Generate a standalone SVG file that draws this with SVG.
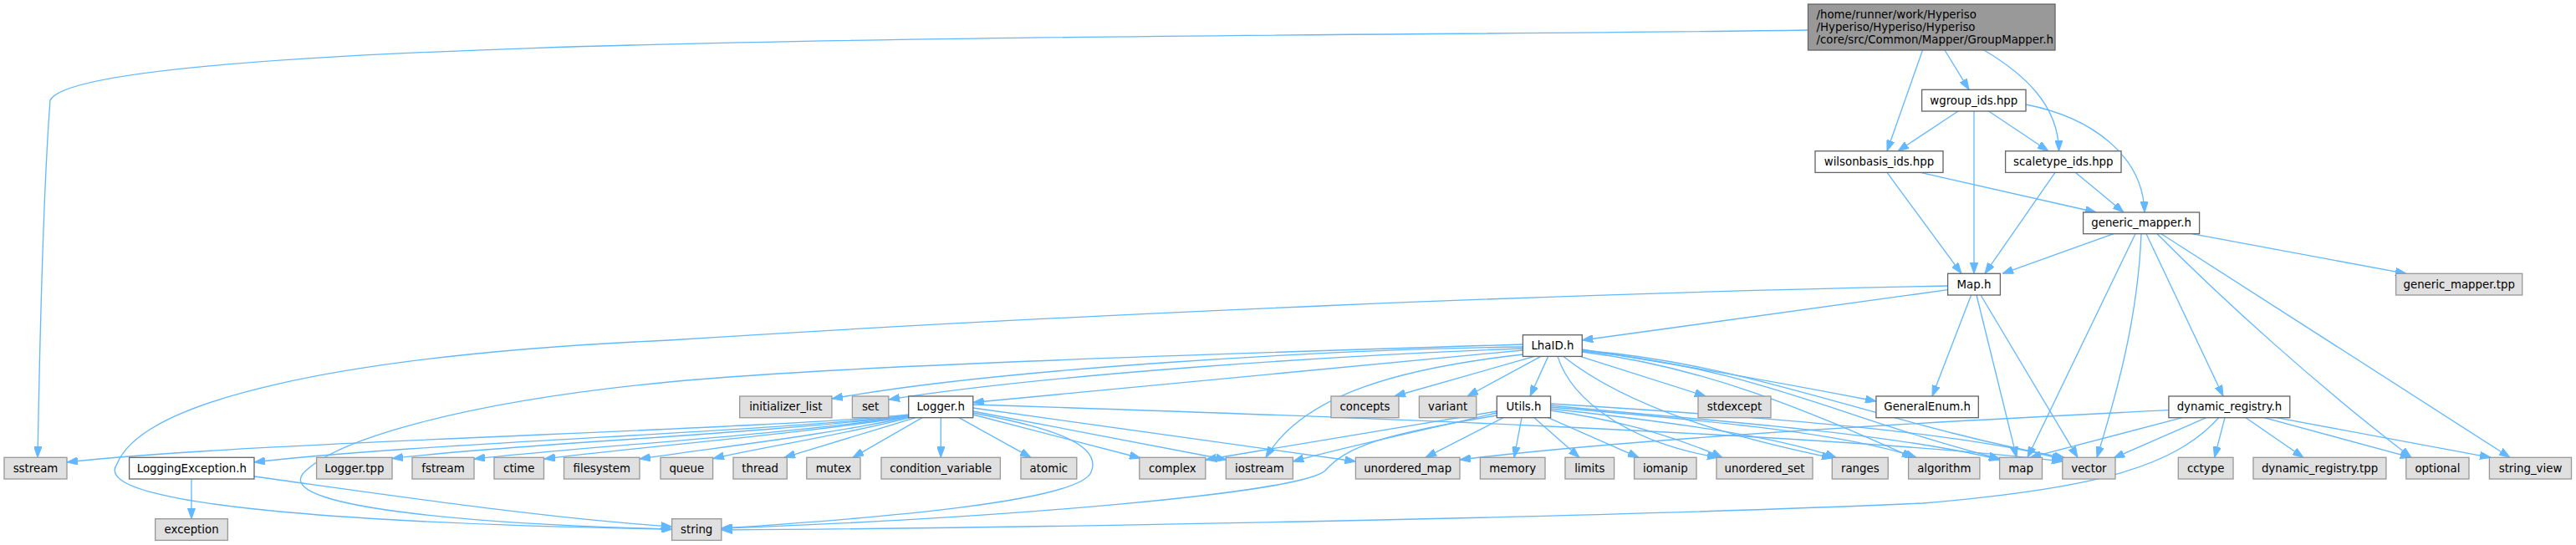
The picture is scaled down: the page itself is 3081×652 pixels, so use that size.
<svg xmlns="http://www.w3.org/2000/svg" width="3081" height="652" viewBox="0 0 3081 652">
<defs>
<style>
.n rect{fill:#ffffff;stroke:#666666;stroke-width:1.33}
.e rect{fill:#e0e0e0;stroke:#999999;stroke-width:1.33}
.r rect{fill:#999999;stroke:#666666;stroke-width:1.33}
text{font-family:"DejaVu Sans","Liberation Sans",sans-serif;font-size:13.33px;fill:#000000;text-anchor:middle}
#edges path{fill:none;stroke:#63b8ff;stroke-width:1.33;marker-end:url(#arr)}
</style>
<marker id="arr" viewBox="0 0 13 9.4" markerWidth="13" markerHeight="9.4" refX="13" refY="4.7" orient="auto" markerUnits="userSpaceOnUse">
<path d="M0,0 L13,4.7 L0,9.4 z" fill="#63b8ff" stroke="#63b8ff" stroke-width="1"/>
</marker>
</defs>
<rect width="3081" height="652" fill="#ffffff"/>
<g id="edges">
<path d="M2162.5,36 C1500,46 100,38 60,120 C50,250 47,450 45,547.3"/>
<path d="M2299.5,60 L2257,180.7"/>
<path d="M2326,60 L2355,107.3"/>
<path d="M2373,60 C2420,88 2462,125 2462.5,180.7"/>
<path d="M2342,133 L2270,180.7"/>
<path d="M2361,133 L2361,327.3"/>
<path d="M2378.5,133 L2450,180.7"/>
<path d="M2423,125 C2500,140 2563,185 2565,254"/>
<path d="M2257,206.4 L2346,327.3"/>
<path d="M2297,206.4 L2507,254"/>
<path d="M2458,206.4 L2374,327.3"/>
<path d="M2482.5,206.4 L2540,254"/>
<path d="M2528,279.7 L2395,327.3"/>
<path d="M2621.5,279.7 L2878,327.3"/>
<path d="M2567,279.7 L2659,474"/>
<path d="M2554,279.7 L2425,547.3"/>
<path d="M2561,279.7 C2557,380 2532,470 2508,547.3"/>
<path d="M2580,279.7 C2660,360 2770,460 2884,547.3"/>
<path d="M2585,279.7 L3002,547.3"/>
<path d="M2329.6,346.7 L1892.3,407"/>
<path d="M2357.6,353 L2311,474"/>
<path d="M2364,353 L2412,547.3"/>
<path d="M2369,353 L2485,547.3"/>
<path d="M2329.6,342 C1900,350 1300,375 800,407 C400,425 170,480 140,555 C100,610 500,628 803.6,633"/>
<path d="M1821.4,415 C1600,418 1200,440 995,477"/>
<path d="M1821.4,417 C1600,425 1250,448 1063,478"/>
<path d="M1821.4,419 L1163.8,481.5"/>
<path d="M1821.4,412 C1400,425 1000,438 800,457 C560,480 400,525 362,567 C330,610 600,628 803.6,633"/>
<path d="M1821.4,424 C1680,440 1560,470 1514,547.3"/>
<path d="M1835,426.4 L1668,474"/>
<path d="M1843,426.4 L1755,474"/>
<path d="M1851.7,426.4 L1830,474"/>
<path d="M1890,426.4 L2040,474"/>
<path d="M1892.3,418 C2000,435 2150,462 2243.9,480"/>
<path d="M1863,426.4 C1880,480 1950,530 2055,547.3"/>
<path d="M1870,426.4 C1950,490 2080,525 2192,548"/>
<path d="M1892.3,421 C2050,440 2180,500 2288,547.3"/>
<path d="M1892.3,420 C2100,440 2200,500 2392,549"/>
<path d="M1892.3,419 C2100,436 2240,505 2470,548"/>
<path d="M1798,499.7 L1705,547.3"/>
<path d="M1820,499.7 L1811,547.3"/>
<path d="M1835,499.7 L1889,547.3"/>
<path d="M1851.7,499.7 L1960,547.3"/>
<path d="M1854.6,491 C1950,505 2010,525 2060,547.3"/>
<path d="M1854.6,489 C1980,503 2120,520 2196,547.3"/>
<path d="M1854.6,487 C2000,500 2200,515 2292,547.3"/>
<path d="M1854.6,485 C2000,500 2250,515 2392,550"/>
<path d="M1854.6,483 C2050,495 2350,515 2467,550"/>
<path d="M1790.3,492 L1442,550"/>
<path d="M1790.3,494 C1700,515 1600,537 1546.4,552"/>
<path d="M1790.3,497 C1650,520 1610,535 1585,563 C1555,590 1200,620 862.8,632"/>
<path d="M1086.7,496 C900,515 300,528 80,553"/>
<path d="M1086.7,497 C900,518 500,530 304,553"/>
<path d="M1086.7,497.5 C900,520 600,532 469,548.5"/>
<path d="M1086.7,498 C920,522 690,535 567,549"/>
<path d="M1086.7,498.5 C950,520 760,535 651,549"/>
<path d="M1086.7,499 C990,520 860,535 765,549"/>
<path d="M1088,499.7 C1010,520 910,535 853,548.5"/>
<path d="M1095,499.7 L938,547.3"/>
<path d="M1103,499.7 L1020,547.3"/>
<path d="M1125.3,499.7 L1125.3,547.3"/>
<path d="M1147,499.7 L1233,547.3"/>
<path d="M1163.8,496 L1364,548"/>
<path d="M1163.8,492 L1467,550"/>
<path d="M1163.8,488 L1621.4,552"/>
<path d="M1163.8,484 C1600,498 2200,520 2466.8,552"/>
<path d="M1163.8,494 C1250,510 1320,530 1305,565 C1290,600 1050,620 862.8,632"/>
<path d="M229,573 L229,620.7"/>
<path d="M304,570 C450,590 650,620 803.6,630"/>
<path d="M2593.9,490.7 C2300,505 1950,525 1746,550"/>
<path d="M2610,499.7 L2428,547.3"/>
<path d="M2638.7,499.7 L2528,548"/>
<path d="M2653.6,499.7 C2600,560 2500,585 2300,602 C1900,620 1200,632 862.8,634"/>
<path d="M2661,499.7 L2648.6,547.3"/>
<path d="M2686,499.7 L2755,547.3"/>
<path d="M2708,499.7 L2884,547.3"/>
<path d="M2723,499.7 L2979,547.3"/>
</g>
<g id="root" class="r"><rect x="2162.5" y="5" width="295.5" height="55"/><text x="2172.5" y="22" style="text-anchor:start">/home/runner/work/Hyperiso</text><text x="2172.5" y="37" style="text-anchor:start">/Hyperiso/Hyperiso/Hyperiso</text><text x="2172.5" y="52" style="text-anchor:start">/core/src/Common/Mapper/GroupMapper.h</text></g>
<g id="wgroup" class="n"><rect x="2298.6" y="107.3" width="124.4" height="25.7"/><text x="2360.8" y="124.7">wgroup_ids.hpp</text></g>
<g id="wilson" class="n"><rect x="2171" y="180.7" width="153" height="25.7"/><text x="2247.5" y="198">wilsonbasis_ids.hpp</text></g>
<g id="scaletype" class="n"><rect x="2398.6" y="180.7" width="138.4" height="25.7"/><text x="2467.8" y="198">scaletype_ids.hpp</text></g>
<g id="gm_h" class="n"><rect x="2491.6" y="254" width="139" height="25.7"/><text x="2561.1" y="271.4">generic_mapper.h</text></g>
<g id="map_h" class="n"><rect x="2329.6" y="327.3" width="62.8" height="25.7"/><text x="2361" y="344.7">Map.h</text></g>
<g id="gm_tpp" class="e"><rect x="2865.6" y="327.3" width="151.1" height="25.7"/><text x="2941.2" y="344.7">generic_mapper.tpp</text></g>
<g id="lhaid" class="n"><rect x="1821.4" y="400.7" width="70.9" height="25.7"/><text x="1856.9" y="418">LhaID.h</text></g>
<g id="init_list" class="e"><rect x="884.7" y="474" width="110.2" height="25.7"/><text x="939.8" y="491.4">initializer_list</text></g>
<g id="set" class="e"><rect x="1019.4" y="474" width="43.4" height="25.7"/><text x="1041.1" y="491.4">set</text></g>
<g id="logger" class="n"><rect x="1086.7" y="474" width="77.1" height="25.7"/><text x="1125.3" y="491.4">Logger.h</text></g>
<g id="concepts" class="e"><rect x="1592" y="474" width="81" height="25.7"/><text x="1632.5" y="491.4">concepts</text></g>
<g id="variant" class="e"><rect x="1697.4" y="474" width="68.4" height="25.7"/><text x="1731.6" y="491.4">variant</text></g>
<g id="utils" class="n"><rect x="1790.3" y="474" width="64.3" height="25.7"/><text x="1822.5" y="491.4">Utils.h</text></g>
<g id="stdexcept" class="e"><rect x="2031" y="474" width="87" height="25.7"/><text x="2074.5" y="491.4">stdexcept</text></g>
<g id="genenum" class="n"><rect x="2243.9" y="474" width="122.4" height="25.7"/><text x="2305.1" y="491.4">GeneralEnum.h</text></g>
<g id="dynreg_h" class="n"><rect x="2593.9" y="474" width="144.9" height="25.7"/><text x="2666.4" y="491.4">dynamic_registry.h</text></g>
<g id="sstream" class="e"><rect x="5" y="547.3" width="75" height="25.7"/><text x="42.5" y="564.7">sstream</text></g>
<g id="logexc" class="n"><rect x="154.6" y="547.3" width="149.4" height="25.7"/><text x="229.3" y="564.7">LoggingException.h</text></g>
<g id="logger_tpp" class="e"><rect x="378.6" y="547.3" width="90.4" height="25.7"/><text x="423.8" y="564.7">Logger.tpp</text></g>
<g id="fstream" class="e"><rect x="493" y="547.3" width="74" height="25.7"/><text x="530" y="564.7">fstream</text></g>
<g id="ctime" class="e"><rect x="591" y="547.3" width="59.5" height="25.7"/><text x="620.8" y="564.7">ctime</text></g>
<g id="filesystem" class="e"><rect x="674.5" y="547.3" width="90.5" height="25.7"/><text x="719.8" y="564.7">filesystem</text></g>
<g id="queue" class="e"><rect x="790" y="547.3" width="62.6" height="25.7"/><text x="821.3" y="564.7">queue</text></g>
<g id="thread" class="e"><rect x="877" y="547.3" width="64.3" height="25.7"/><text x="909.2" y="564.7">thread</text></g>
<g id="mutex" class="e"><rect x="964.8" y="547.3" width="64.2" height="25.7"/><text x="996.9" y="564.7">mutex</text></g>
<g id="condvar" class="e"><rect x="1054" y="547.3" width="142.4" height="25.7"/><text x="1125.2" y="564.7">condition_variable</text></g>
<g id="atomic" class="e"><rect x="1221" y="547.3" width="66.8" height="25.7"/><text x="1254.4" y="564.7">atomic</text></g>
<g id="complex" class="e"><rect x="1362.8" y="547.3" width="79" height="25.7"/><text x="1402.3" y="564.7">complex</text></g>
<g id="iostream" class="e"><rect x="1466.3" y="547.3" width="80.1" height="25.7"/><text x="1506.4" y="564.7">iostream</text></g>
<g id="umap" class="e"><rect x="1621.4" y="547.3" width="124.6" height="25.7"/><text x="1683.7" y="564.7">unordered_map</text></g>
<g id="memory" class="e"><rect x="1770.4" y="547.3" width="77.6" height="25.7"/><text x="1809.2" y="564.7">memory</text></g>
<g id="limits" class="e"><rect x="1872" y="547.3" width="58.6" height="25.7"/><text x="1901.3" y="564.7">limits</text></g>
<g id="iomanip" class="e"><rect x="1954.6" y="547.3" width="74.4" height="25.7"/><text x="1991.8" y="564.7">iomanip</text></g>
<g id="uset" class="e"><rect x="2053" y="547.3" width="115" height="25.7"/><text x="2110.5" y="564.7">unordered_set</text></g>
<g id="ranges" class="e"><rect x="2191.3" y="547.3" width="66.9" height="25.7"/><text x="2224.8" y="564.7">ranges</text></g>
<g id="algorithm" class="e"><rect x="2282.6" y="547.3" width="85.3" height="25.7"/><text x="2325.3" y="564.7">algorithm</text></g>
<g id="map" class="e"><rect x="2391.6" y="547.3" width="50.9" height="25.7"/><text x="2417.1" y="564.7">map</text></g>
<g id="vector" class="e"><rect x="2466.8" y="547.3" width="63.2" height="25.7"/><text x="2498.4" y="564.7">vector</text></g>
<g id="cctype" class="e"><rect x="2605.3" y="547.3" width="65.7" height="25.7"/><text x="2638.2" y="564.7">cctype</text></g>
<g id="dynreg_tpp" class="e"><rect x="2695" y="547.3" width="158.9" height="25.7"/><text x="2774.5" y="564.7">dynamic_registry.tpp</text></g>
<g id="optional" class="e"><rect x="2877.8" y="547.3" width="75.2" height="25.7"/><text x="2915.4" y="564.7">optional</text></g>
<g id="string_view" class="e"><rect x="2977.4" y="547.3" width="98.1" height="25.7"/><text x="3026.5" y="564.7">string_view</text></g>
<g id="exception" class="e"><rect x="185.7" y="620.7" width="86.7" height="25.7"/><text x="229.1" y="638">exception</text></g>
<g id="string" class="e"><rect x="803.6" y="620.7" width="59.2" height="25.7"/><text x="833.2" y="638">string</text></g>
</svg>
